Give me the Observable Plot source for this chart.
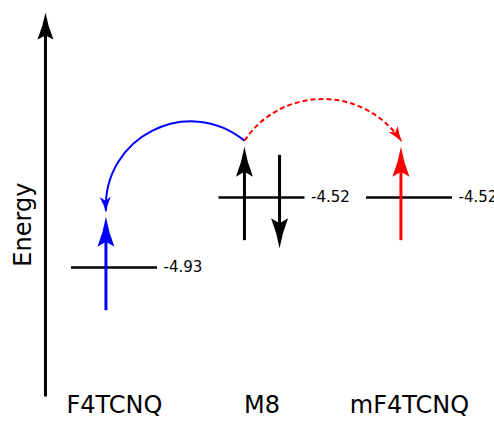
<!DOCTYPE html>
<html>
<head>
<meta charset="utf-8">
<script src="https://cdn.jsdelivr.net/npm/d3@7"></script>
<script src="https://cdn.jsdelivr.net/npm/@observablehq/plot@0.6"></script>
<style>
  html, body { margin: 0; padding: 0; background: #ffffff; }
  #chart { width: 494px; height: 425px; }
</style>
</head>
<body>
<div id="chart"></div>
<script>
// ---- data ----
const molecules = ["F4TCNQ", "M8", "mF4TCNQ"];
const levelEnergies = [-4.93, -4.52, -4.52];
const levelLabels = ["-4.93", "-4.52", "-4.52"];

const spinMolecule = ["F4TCNQ", "M8", "M8", "mF4TCNQ"];
const spinDirection = ["up", "up", "down", "up"];
const spinColor = ["#0000ff", "#000000", "#000000", "#ff0000"];

const transferFrom = ["M8", "M8"];
const transferTo = ["F4TCNQ", "mF4TCNQ"];
const transferColor = ["#0000ff", "#ff0000"];

const axisLabel = "Energy";

// ---- layout constants (style, not data) ----
const levelHalf = 0.2915;      // half width of level bar (x units)
const spinHalf = 0.25;         // half length of a spin arrow (energy units)
const pairOffset = 0.119;      // x offset of paired spins
const singleOffset = -0.058;   // x offset of a single spin
const curveLift = 0.333;       // curve end height above level
const axisX = -0.468, axisBottom = -5.6856, axisTop = -3.4833;

// ---- derived tables ----
const idx = m => molecules.indexOf(m);
const levels = molecules.map((m, i) => ({i, e: levelEnergies[i], label: levelLabels[i]}));

const spins = spinMolecule.map((m, k) => {
  const i = idx(m);
  const count = spinMolecule.filter(s => s === m).length;
  const up = spinDirection[k] === "up";
  const off = count > 1 ? (up ? -pairOffset : pairOffset) : singleOffset;
  const e = levelEnergies[i];
  return {
    x: i + off,
    y1: up ? e - spinHalf : e + spinHalf,
    y2: up ? e + spinHalf : e - spinHalf,
    color: spinColor[k]
  };
});

function spinX(m, dir) {
  return spins.find((s, k) => spinMolecule[k] === m && spinDirection[k] === dir).x;
}
const transfers = transferFrom.map((f, k) => ({
  x1: spinX(f, "up"), y1: levelEnergies[idx(f)] + curveLift,
  x2: spinX(transferTo[k], "up"), y2: levelEnergies[idx(transferTo[k])] + curveLift,
  color: transferColor[k]
}));

// ---- custom dart marker ----
function dart(L, W, notch, offset) {
  return (color, context) => {
    const doc = (context && context.document) || document;
    const ns = "http://www.w3.org/2000/svg";
    const m = doc.createElementNS(ns, "marker");
    m.setAttribute("viewBox", `${-L} ${-W / 2} ${L + offset + 1} ${W}`);
    m.setAttribute("markerWidth", L + offset + 1);
    m.setAttribute("markerHeight", W);
    m.setAttribute("markerUnits", "userSpaceOnUse");
    m.setAttribute("refX", 0);
    m.setAttribute("refY", 0);
    m.setAttribute("orient", "auto");
    m.setAttribute("overflow", "visible");
    const p = doc.createElementNS(ns, "path");
    const t = offset, b = offset - L;
    p.setAttribute("d",
      `M${t},0 Q${t - L * 0.5},${-W * 0.15} ${b},${-W / 2} L${b + notch},0 L${b},${W / 2} Q${t - L * 0.5},${W * 0.15} ${t},0 Z`);
    p.setAttribute("fill", color);
    p.setAttribute("stroke", "none");
    m.appendChild(p);
    return m;
  };
}

// ---- custom arc curve (circular arc via cubic bezier) ----
function arcCurve(deg) {
  return (context) => {
    let pts = [];
    return {
      areaStart() {}, areaEnd() {},
      lineStart() { pts = []; },
      point(x, y) { pts.push([+x, +y]); },
      lineEnd() {
        const [[x1, y1], [x2, y2]] = pts;
        const dx = x2 - x1, dy = y2 - y1, c = Math.hypot(dx, dy);
        const ux = dx / c, uy = dy / c;
        const t = deg * Math.PI / 180;
        const r = c / (2 * Math.abs(Math.sin(t)));
        const h = 4 / 3 * Math.tan(Math.abs(t) / 2) * r;
        const rot = (x, y, a) => [x * Math.cos(a) - y * Math.sin(a), x * Math.sin(a) + y * Math.cos(a)];
        const [sx, sy] = rot(ux, uy, t);
        const [ex, ey] = rot(ux, uy, -t);
        context.moveTo(x1, y1);
        context.bezierCurveTo(x1 + h * sx, y1 + h * sy, x2 - h * ex, y2 - h * ey, x2, y2);
      }
    };
  };
}

const font = "DejaVu Sans";

const chart = Plot.plot({
  width: 494,
  height: 425,
  margin: 0,
  style: {fontFamily: font, background: "#ffffff", color: "#000000"},
  x: {domain: [0, 2], range: [114, 409], axis: null},
  y: {domain: [-4.93, -4.52], range: [267, 197], axis: null},
  color: {type: "identity"},
  marks: [
    // energy axis
    Plot.link([axisLabel], {
      x1: () => axisX, x2: () => axisX, y1: () => axisBottom, y2: () => axisTop,
      stroke: "#000000", strokeWidth: 3, markerEnd: dart(27, 16, 4, 8)
    }),
    Plot.text([axisLabel], {
      x: () => -0.618, y: () => -4.679, text: d => d, rotate: -90,
      fontSize: 24, fill: "#000000"
    }),
    // levels
    Plot.ruleY(levels, {
      y: "e", x1: d => d.i - levelHalf, x2: d => d.i + levelHalf,
      stroke: "#000000", strokeWidth: 2.6
    }),
    Plot.text(levels, {
      x: d => d.i + levelHalf, y: "e", text: "label", dx: 6,
      textAnchor: "start", fontSize: 15, fill: "#000000"
    }),
    // spins
    Plot.link(spins, {
      x1: "x", x2: "x", y1: "y1", y2: "y2", stroke: "color",
      strokeWidth: 3, markerEnd: dart(30, 17, 5, 8)
    }),
    // transfers
    Plot.link(transfers.filter((d, k) => k === 0), {
      x1: "x1", y1: "y1", x2: "x2", y2: "y2", stroke: "color",
      strokeWidth: 2, curve: arcCurve(66), markerEnd: dart(16, 11, 4, 2)
    }),
    Plot.link(transfers.filter((d, k) => k === 1), {
      x1: "x1", y1: "y1", x2: "x2", y2: "y2", stroke: "color",
      strokeWidth: 2, strokeDasharray: "5,3", curve: arcCurve(-56), markerEnd: dart(16, 11, 4, 2)
    }),
    // molecule labels
    Plot.text(molecules, {
      x: (d, i) => i, frameAnchor: "bottom", dy: -12.5, text: d => d,
      fontSize: 24, fill: "#000000"
    })
  ]
});
document.getElementById("chart").appendChild(chart);
</script>
</body>
</html>
